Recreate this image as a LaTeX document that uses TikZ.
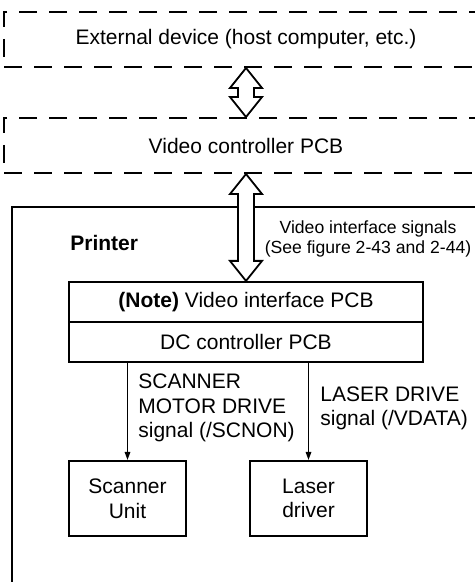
\documentclass[tikz,border=0pt]{standalone}
\usepackage{fontspec}
\setmainfont{Liberation Sans}
\usetikzlibrary{positioning,arrows.meta,calc}
\newcommand{\fatlink}[2]{%
  \draw[fat] (#1) -- ++(-16,20) -- ++(8,0) -- ($(#2)+(-8,-20)$) -- ++(-8,0) -- (#2)
    -- ++(16,-20) -- ++(-8,0) -- ($(#1)+(8,20)$) -- ++(8,0) -- cycle;}

\begin{document}
\begin{tikzpicture}[x=0.5pt,y=-0.5pt,
  every node/.style={font=\fontsize{10.5}{12.3}\selectfont,align=center,inner sep=0pt},
  dbox/.style={draw,line width=1pt,dash pattern=on 9pt off 6pt,minimum width=242pt,minimum height=27.5pt},
  pcb/.style={draw,line width=1.1pt,minimum width=177pt,minimum height=20pt},
  unit/.style={draw,line width=1.1pt,minimum width=58.5pt,minimum height=37.5pt},
  lab/.style={align=left,anchor=west},
  ttl/.style={font=\fontsize{10.5}{12.3}\selectfont\bfseries,anchor=west},
  note/.style={font=\fontsize{8.8}{9.6}\selectfont},
  fat/.style={draw,line width=0.9pt,fill=white,line join=miter},
  >={Triangle[length=4pt,width=2.8pt]}]
\clip (0,0) rectangle (475,582);
\node[dbox] (ext) at (246,39.5) {External device (host computer, etc.)};
\node[dbox] (vc) at (246,145.5) {Video controller PCB};
\draw[line width=1.1pt] (12,207) rectangle (500,600);
\node[ttl] (prt) at (70,243) {Printer};
\node[note] (vsig) at (368,239) {Video interface signals\\(See figure 2-43 and 2-44)};
\node[pcb] (vif) at (246,302) {\textbf{(Note)} Video interface PCB};
\node[pcb] (dc) at (246,342) {DC controller PCB};
\node[unit] (scan) at (127.5,498.5) {Scanner\\Unit};
\node[unit] (las) at (308.5,498.5) {Laser\\driver};
\fatlink{ext.south}{vc.north}
\fatlink{vc.south}{vif.north}
\draw[->,line width=0.6pt] (scan.north |- dc.south) -- (scan.north);
\draw[->,line width=0.6pt] (las.north |- dc.south) -- (las.north);
\node[lab] (scanlab) at (138,408) {SCANNER\\MOTOR DRIVE\\signal (/SCNON)};
\node[lab] (laslab) at (320,408.5) {LASER DRIVE\\signal (/VDATA)};
\end{tikzpicture}
\end{document}
